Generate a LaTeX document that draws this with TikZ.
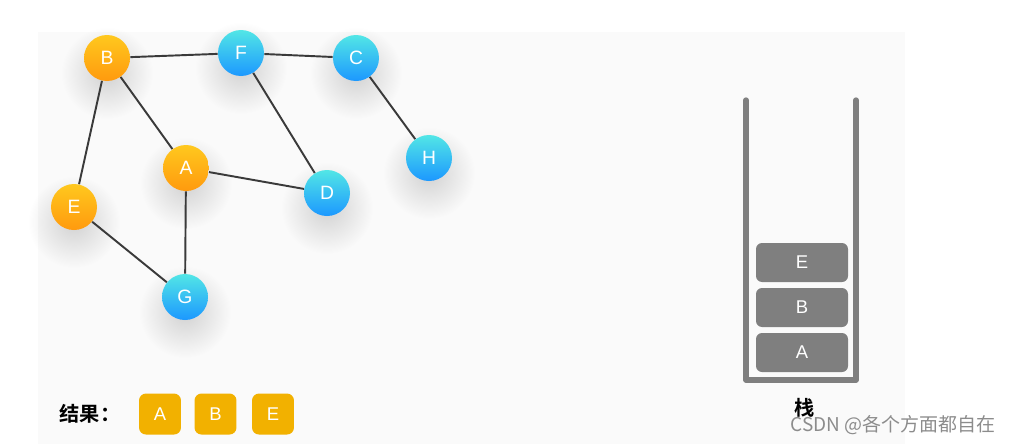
\documentclass[tikz,border=0pt]{standalone}
\usepackage{fontspec}
\setmainfont{Liberation Sans}
\newfontfamily\cjk{Noto Sans CJK SC}[BoldFont={Noto Sans CJK SC Bold}]
\usetikzlibrary{positioning,fadings}
\definecolor{bgcol}{HTML}{FAFAFA}
\definecolor{orgtop}{HTML}{FFC81E}
\definecolor{orgbot}{HTML}{FF9A0E}
\definecolor{cyntop}{HTML}{52E6E6}
\definecolor{cynbot}{HTML}{1C98FF}
\definecolor{edgecol}{HTML}{3A3A3A}
\definecolor{stackcol}{HTML}{7F7F7F}
\definecolor{rescol}{HTML}{F2B100}
\pgfdeclarelayer{back}
\pgfdeclarelayer{under}
\pgfsetlayers{back,under,main}
\tikzfading[name=softdot, inner color=transparent!0, outer color=transparent!100]
\tikzset{
  vnode/.style={circle, minimum size=0.92cm, inner sep=0pt,
    text=white, font=\fontsize{11}{13}\selectfont},
  visited/.style={vnode, top color=orgtop, bottom color=orgbot},
  unvisited/.style={vnode, top color=cyntop, bottom color=cynbot},
  vshadow/.style={fill=black, fill opacity=0.16, path fading=softdot},
  gedge/.style={draw=edgecol, line width=1.1pt},
  stackwall/.style={draw=stackcol, line width=3pt, line cap=round, line join=round},
  stackbox/.style={fill=stackcol, rounded corners=0.12cm, minimum width=1.84cm,
    minimum height=0.78cm, inner sep=0pt, text=white, font=\fontsize{10.5}{12}\selectfont},
  resbox/.style={fill=rescol, rounded corners=0.14cm, minimum width=0.84cm,
    minimum height=0.82cm, inner sep=0pt, text=white, font=\fontsize{10.5}{12}\selectfont},
}
\begin{document}
\begin{tikzpicture}[x=0.02cm, y=-0.02cm]
  \useasboundingbox (0,0) rectangle (1014,444);
  \begin{pgfonlayer}{back}
    \fill[bgcol] (38,32) rectangle (905,444);
  \end{pgfonlayer}

  % ---- graph vertices ----
  \node[visited]   at (107,58)  (B) {B};
  \node[unvisited] at (241,53)  (F) {F};
  \node[unvisited] at (356,58)  (C) {C};
  \node[visited]   at (186,168) (A) {A};
  \node[unvisited] at (327,193) (D) {D};
  \node[unvisited] at (429,158) (H) {H};
  \node[visited]   at (74,207)  (E) {E};
  \node[unvisited] at (185,297) (G) {G};

  % ---- shadows and edges ----
  \begin{pgfonlayer}{under}
    \foreach \v in {A,B,C,D,E,F,G,H}
      \fill[vshadow] ([yshift=-0.3cm]\v.center) circle (46);
    \draw[gedge] (B) -- (F);
    \draw[gedge] (F) -- (C);
    \draw[gedge] (B) -- (A);
    \draw[gedge] (B) -- (E);
    \draw[gedge] (F) -- (D);
    \draw[gedge] (A) -- (D);
    \draw[gedge] (A) -- (G);
    \draw[gedge] (E) -- (G);
    \draw[gedge] (C) -- (H);
  \end{pgfonlayer}

  % ---- stack ----
  \coordinate (wallTL) at (746,100);
  \coordinate (wallBL) at (746,380);
  \coordinate (wallBR) at (856,380);
  \coordinate (wallTR) at (856,100);
  \draw[stackwall] (wallTL) -- (wallBL) -- (wallBR) -- (wallTR);
  \node[stackbox] at (802,262.5) (sE) {E};
  \node[stackbox] at (802,307.5) (sB) {B};
  \node[stackbox] at (802,352.5) (sA) {A};
  \node[font=\cjk\bfseries\fontsize{11.5}{13}\selectfont] at (805,408) (stk) {栈};

  % ---- result ----
  \node[font=\cjk\bfseries\fontsize{11.5}{13}\selectfont] at (90,414) (reslbl) {结果：};
  \node[resbox] at (160,414)   (rA) {A};
  \node[resbox] at (215.5,414) (rB) {B};
  \node[resbox] at (273,414)   (rE) {E};

  % watermark
  \node[font=\cjk\fontsize{10.8}{12}\selectfont, text=black!45] at (893,425) (mark) {CSDN @各个方面都自在};
\end{tikzpicture}
\end{document}
